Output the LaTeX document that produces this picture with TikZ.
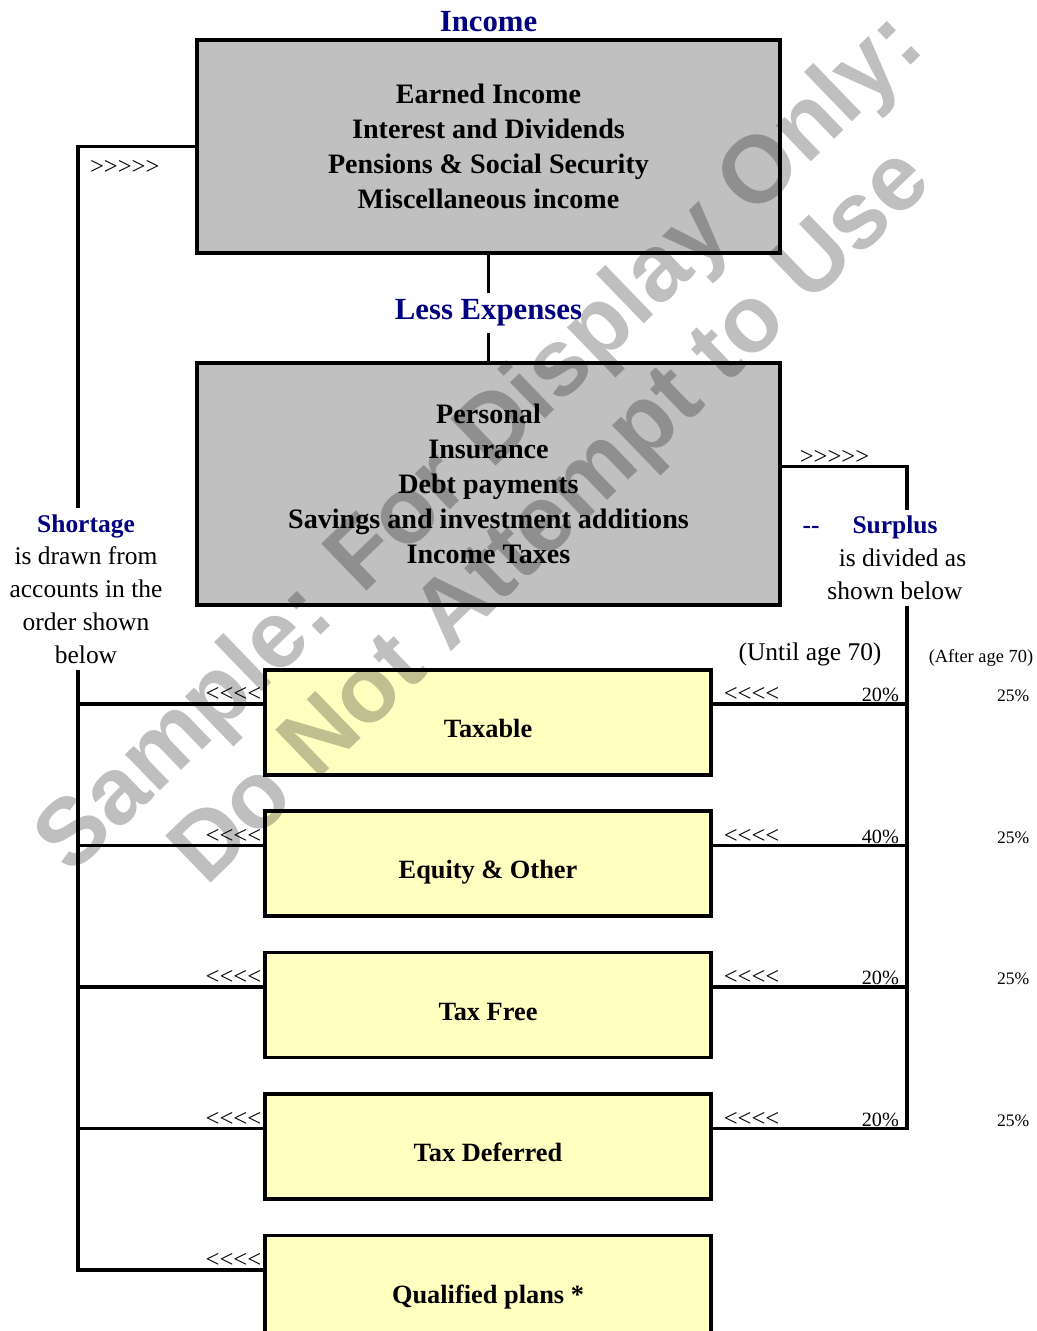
\documentclass[tikz,border=0pt]{standalone}
\usepackage{fontspec}
\setmainfont{Liberation Serif}
\newfontfamily\chevfont{Liberation Serif}
\newfontfamily\markfont{Liberation Sans}
\usetikzlibrary{calc,positioning}
\definecolor{cfnavy}{RGB}{0,0,128}
\definecolor{cfgray}{RGB}{192,192,192}
\definecolor{cfyellow}{RGB}{255,255,192}

\begin{document}
\begin{tikzpicture}[
      x=0.02cm, y=-0.02cm,
      node distance=0.66cm,
      bigbox/.style={draw, line width=2pt, fill=cfgray, minimum width=11.66cm, align=center, font=\bfseries\fontsize{16}{20}\selectfont},
      acct/.style={draw, line width=2pt, fill=cfyellow, minimum width=8.92cm, minimum height=2.1cm, text height=17pt, text depth=0pt, font=\bfseries\fontsize{15}{18}\selectfont},
      head/.style={text=cfnavy, font=\bfseries\fontsize{17.5}{20}\selectfont},
      side/.style={align=center, font=\fontsize{14.5}{18.7}\selectfont},
      chev/.style={font=\chevfont\fontsize{14}{16}\selectfont, inner sep=1pt},
      pct/.style={font=\fontsize{11.5}{13}\selectfont, inner sep=1pt},
      tiny/.style={font=\fontsize{10}{12}\selectfont, inner sep=1pt},
      link/.style={line width=2pt}
    ]
      \path[fill=white] (0,0) rectangle (1036,1331);
      \useasboundingbox (0,0) rectangle (1036,1331);

      % 1. Income
      \node[bigbox, minimum height=4.26cm] (inc) at (488.5,146.5) {
        Earned Income\\
        Interest and Dividends\\
        Pensions \& Social Security\\
        Miscellaneous income
      };
      \node[head, above=0pt of inc] (inctitle) {Income};

      % 2. Expenses
      \node[bigbox, minimum height=4.84cm] (exp) at (488.5,484) {
        Personal\\
        Insurance\\
        Debt payments\\
        Savings and investment additions\\
        Income Taxes
      };
      \node[head, yshift=-0.1cm] (less) at ($(inc.south)!0.5!(exp.north)$) {Less Expenses};
      \draw[link] (inc) -- (less);
      \draw[link] (less) -- (exp);

      % 3. Accounts
      \node[acct, anchor=north] (tax) at (488,668) {Taxable};
      \node[acct, below=of tax] (eq) {Equity \& Other};
      \node[acct, below=of eq] (free) {Tax Free};
      \node[acct, below=of free] (def) {Tax Deferred};
      \node[acct, below=of def] (qual) {Qualified plans *};

      % 4. Shortage side
      \node[side] (short) at (86,589) {
        {\bfseries\color{cfnavy}Shortage}\\
        is drawn from\\
        accounts in the\\
        order shown\\
        below
      };
      \coordinate (lbus) at ([xshift=-0.16cm]short.south);
      \coordinate (qualW) at ($(qual.north west)+(0,36)$);
      \draw[link] (inc.west) -| ([xshift=-0.16cm]short.north);
      \draw[link] (lbus) |- (qualW);
      \node[chev, anchor=north west] (inarr) at ([xshift=0.2cm,yshift=-0.24cm]inc.west -| lbus) {>>>>>};
      \node[chev, anchor=south east] at (qualW) {<<<<};

      % 5. Surplus side
      \node[side] (surp) at (895,558) {
        \llap{{\chevfont\bfseries\color{cfnavy}--}\hspace{0.66cm}}{\bfseries\color{cfnavy}Surplus}\\
        \hspace{0.3cm}is divided as\\
        shown below
      };
      \coordinate (rbus) at ([xshift=0.24cm]surp.south);
      \coordinate (expE) at ($(exp.north east)+(0,105)$);
      \draw[link] (expE) -| ([xshift=0.24cm]surp.north);
      \node[chev, anchor=south west] (outarr) at ([xshift=0.32cm]expE) {>>>>>};
      \node[side] (until) at (810,654) {(Until age 70)};
      \node[tiny, font=\fontsize{10.5}{12}\selectfont] (after) at (981,658) {(After age 70)};

      \foreach \acc/\pl in {tax/20\%, eq/40\%, free/20\%, def/20\%} {
        \coordinate (\acc W) at ($(\acc.north west)+(0,36)$);
        \coordinate (\acc E) at ($(\acc.north east)+(0,36)$);
        \draw[link] (\acc W) -- (\acc W -| lbus);
        \draw[link] (\acc E) -- (\acc E -| rbus);
        \node[chev, anchor=south east] at (\acc W) {<<<<};
        \node[chev, anchor=south west] at ([xshift=0.18cm]\acc E) {<<<<};
        \node[pct, anchor=south east] at ([xshift=-0.12cm]\acc E -| rbus) {\pl};
        \node[tiny, anchor=south east] at ([xshift=-0.08cm]\acc E -| after.east) {25\%};
      }
      \draw[link] (rbus) |- (defE);

      % watermark
      \node[rotate=44, text=black, text opacity=0.25, align=center,
            font=\markfont\bfseries\fontsize{54}{58}\selectfont] (mark) at (518,482)
        {Sample: For Display Only:\\ Do Not Attempt to Use};
    \end{tikzpicture}
\end{document}
